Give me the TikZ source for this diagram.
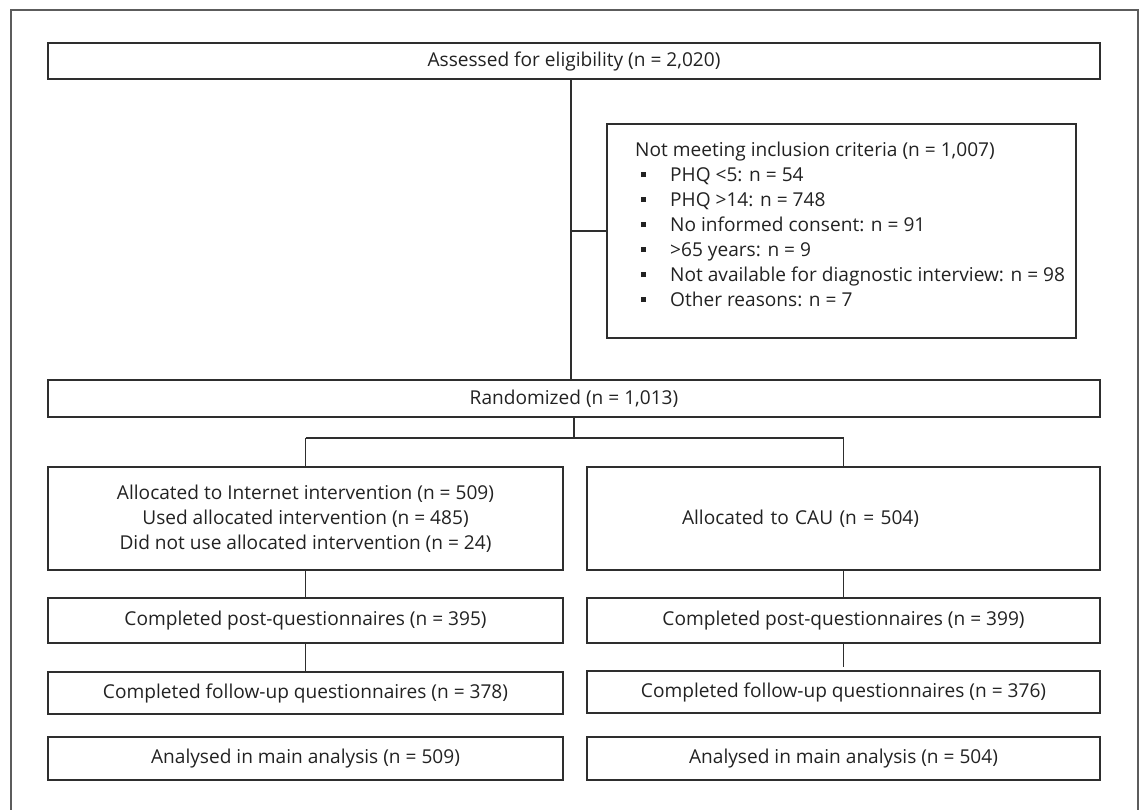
\documentclass[tikz,border=0pt]{standalone}
\usepackage{fontspec}
\setmainfont{Open Sans}
\definecolor{boxc}{HTML}{2E2E2E}
\definecolor{framec}{HTML}{5C5C5C}
\definecolor{txt}{HTML}{222222}
\newcommand\exbul{\makebox[35pt][l]{\hspace{6pt}\rule[4pt]{5pt}{5pt}}}
\begin{document}
\begin{tikzpicture}[x=1pt,y=-1pt,
  every node/.style={font=\fontsize{19.1}{25}\selectfont, text=txt},
  box/.style={draw=boxc, line width=1.8pt, rectangle, inner sep=0pt, align=center},
  conn/.style={draw=boxc, line width=1.6pt},
  frame/.style={draw=framec, line width=2pt}]
\useasboundingbox (0,0) rectangle (1139,809);
\draw[frame] (11,840) -- (11,10) -- (1137.5,10) -- (1137.5,840);

\node[box, minimum width=1052, minimum height=36] (assess) at (574,61) {Assessed for eligibility (n = 2,020)};
\node[box, anchor=north west, minimum width=469, minimum height=214] (excl) at (606,123) {};
\node[anchor=north west, inner sep=0pt, align=left] (excltext) at (635,141.5) {Not meeting inclusion criteria (n = 1,007)\\
\exbul PHQ <5: n = 54\\
\exbul PHQ >14: n = 748\\
\exbul No informed consent: n = 91\\
\exbul >65 years: n = 9\\
\exbul Not available for diagnostic interview: n = 98\\
\exbul Other reasons: n = 7};
\node[box, minimum width=1052, minimum height=37] (rand) at (574,398.5) {Randomized (n = 1,013)};

\node[box, minimum width=515, minimum height=103] (allocL) at (305.5,518.5) {Allocated to Internet intervention (n = 509)\\Used allocated intervention (n = 485)\\Did not use allocated intervention (n = 24)};
\node[box, minimum width=513, minimum height=103, align=left, text width=513] (allocR) at (843.5,518.5) {\hspace*{95pt}Allocated to CAU (n = 504)};

\node[box, minimum width=515, minimum height=45] (postL) at (305.5,620.5) {Completed post-questionnaires (n = 395)};
\node[box, minimum width=513, minimum height=45] (postR) at (843.5,620.5) {Completed post-questionnaires (n = 399)};
\node[box, minimum width=515, minimum height=42] (fuL) at (305.5,693) {Completed follow-up questionnaires (n = 378)};
\node[box, minimum width=513, minimum height=42] (fuR) at (843.5,692) {Completed follow-up questionnaires (n = 376)};
\node[box, minimum width=515, minimum height=43] (anL) at (305.5,758.5) {Analysed in main analysis (n = 509)};
\node[box, minimum width=513, minimum height=43] (anR) at (843.5,758.5) {Analysed in main analysis (n = 504)};

\coordinate (split) at (574,438);
\draw[conn] ([xshift=-3]assess.south) -- ([xshift=-3]rand.north);
\draw[conn] ([xshift=-3]assess.south |- excl.west) -- (excl.west);
\draw[conn] (rand.south) -- (split);
\draw[conn] (allocL.north |- split) -- (allocR.north |- split);
\draw[conn] (allocL.north |- split) -- (allocL.north);
\draw[conn] (allocR.north |- split) -- (allocR.north);
\draw[conn] (allocL.south) -- (postL.north);
\draw[conn] (allocR.south) -- (postR.north);
\draw[conn] (postL.south) -- (fuL.north);
\draw[conn] (postR.south) -- ([yshift=3]fuR.north);
\end{tikzpicture}
\end{document}
